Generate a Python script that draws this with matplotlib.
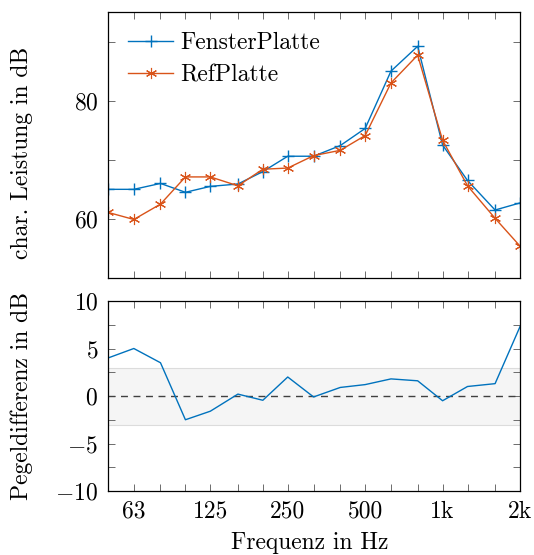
import numpy as np
import matplotlib
matplotlib.use("Agg")
import matplotlib.pyplot as plt
from matplotlib.ticker import FixedLocator, NullFormatter, MultipleLocator

# Terzband-Mittenfrequenzen
freq = [50, 63, 80, 100, 125, 160, 200, 250, 315, 400, 500, 630, 800, 1000, 1250, 1600, 2000]

fenster = [65.0, 65.0, 66.0, 64.5, 65.5, 65.9, 68.0, 70.6, 70.6, 72.4, 75.3,
           85.0, 89.2, 72.5, 66.5, 61.5, 62.7]
ref = [61.1, 59.9, 62.5, 67.1, 67.1, 65.6, 68.4, 68.6, 70.7, 71.6, 74.1,
       83.0, 87.7, 73.3, 65.6, 60.1, 55.4]
diff = [4.0, 5.0, 3.5, -2.5, -1.6, 0.2, -0.45, 2.0, -0.1, 0.9, 1.2,
        1.8, 1.6, -0.5, 1.0, 1.3, 7.3]

xtick_pos = [63, 125, 250, 500, 1000, 2000]
xtick_lab = ['63', '125', '250', '500', '1k', '2k']
xminor = [80, 100, 160, 200, 315, 400, 630, 800, 1250, 1600]

plt.rcParams['font.family'] = 'cmr10'
plt.rcParams['mathtext.fontset'] = 'cm'
plt.rcParams['axes.formatter.use_mathtext'] = True
plt.rcParams['font.size'] = 17
plt.rcParams['xtick.direction'] = 'in'
plt.rcParams['ytick.direction'] = 'in'
plt.rcParams['xtick.top'] = True
plt.rcParams['ytick.right'] = True

blue = '#0072BD'
orange = '#D95319'

fig = plt.figure(figsize=(5.34, 5.55), dpi=100)
ax1 = fig.add_axes([108/534, 1-278/555, 412/534, 266/555])
ax2 = fig.add_axes([108/534, 1-491/555, 412/534, 190/555])

ax1.plot(freq, fenster, color=blue, lw=1, marker='+', ms=9, mew=1, label='FensterPlatte')
ax1.plot(freq, ref, color=orange, lw=1, marker=(6, 2, 0), ms=8, mew=0.8, label='RefPlatte')
ax1.set_ylim(50, 95)
ax1.yaxis.set_major_locator(FixedLocator([60, 80]))
ax1.yaxis.set_minor_locator(FixedLocator([50, 70, 90]))
ax1.set_ylabel('char. Leistung in dB')
ax1.yaxis.set_label_coords(-0.182, 0.47)
ax1.legend(loc='upper left', frameon=False, handlelength=1.9, handletextpad=0.3,
           borderaxespad=0.55, borderpad=0.3, labelspacing=0.42, fontsize=17)

ax2.axhspan(-3, 3, facecolor='#f5f5f5', edgecolor='#dcdcdc', lw=0.8)
ax2.axhline(0, color='#404040', lw=1, ls=(0, (5, 4)))
ax2.plot(freq, diff, color=blue, lw=1)
ax2.set_ylim(-10, 10)
ax2.yaxis.set_major_locator(MultipleLocator(5))
ax2.yaxis.set_minor_locator(MultipleLocator(2.5))
ax2.set_ylabel('Pegeldifferenz in dB')
ax2.yaxis.set_label_coords(-0.182, 0.5)
ax2.set_xlabel('Frequenz in Hz')
ax2.xaxis.set_label_coords(0.49, -0.215)

for ax in (ax1, ax2):
    ax.set_xscale('log')
    ax.set_xlim(50, 2000)
    ax.xaxis.set_major_locator(FixedLocator(xtick_pos))
    ax.xaxis.set_minor_locator(FixedLocator(xminor))
    ax.xaxis.set_minor_formatter(NullFormatter())
    ax.tick_params(which='both', length=5, width=0.6, color='#555555', pad=7)
    for s in ax.spines.values():
        s.set_linewidth(0.9)
ax1.set_xticklabels([])
ax2.set_xticklabels(xtick_lab)

fig.savefig('out.png', dpi=100)
